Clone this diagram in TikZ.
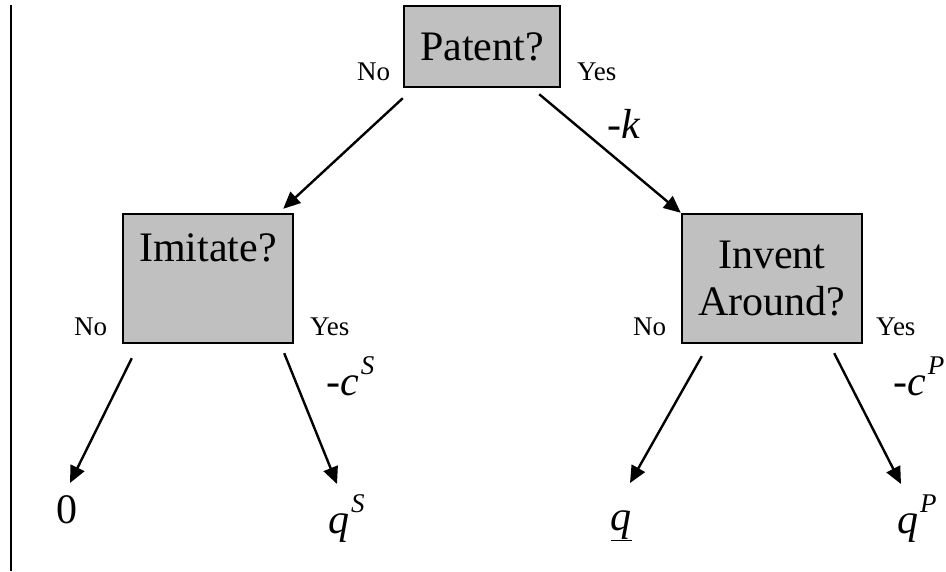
\documentclass[tikz,border=0pt]{standalone}
\usepackage{fontspec}
\setmainfont{Liberation Serif}
\usetikzlibrary{arrows.meta, calc}
\definecolor{boxgray}{RGB}{192, 192, 192}
\newcommand{\upidx}[1]{\kern2pt\raisebox{21pt}{\fontsize{27}{30}\selectfont\itshape #1}}

\begin{document}
\begin{tikzpicture}[x=1pt, y=-1pt,
        box/.style={rectangle, draw, line width=2.4pt, fill=boxgray, align=center,
          font=\fontsize{42}{47}\selectfont},
        arrow/.style={-{Triangle[length=17pt, width=15pt]}, line width=2.4pt},
        ans/.style={inner sep=0pt, anchor=base west, font=\fontsize{27}{30}\selectfont},
        pay/.style={inner sep=0pt, font=\fontsize{42}{47}\selectfont\itshape}
      ]
        \useasboundingbox (0,0) rectangle (946,571);
        \draw[line width=2.4pt] (11,5) -- (11,571);
        % decision boxes
        \node[box, minimum width=156pt, minimum height=81pt] (patent) at (482,46.5) {Patent?};
        \node[box, minimum width=170pt, minimum height=129pt] (imitate) at (208,278.5) {Imitate?\\\strut};
        \node[box, minimum width=180pt, minimum height=129pt] (invent) at (772,278.5) {Invent\\Around?};
        % answers
        \node[ans] (patno) at (357,80) {No};
        \node[ans] (patyes) at (577,80) {Yes};
        \node[ans] (imino) at (74,335) {No};
        \node[ans] (imiyes) at (310,335) {Yes};
        \node[ans] (invno) at (633,335) {No};
        \node[ans] (invyes) at (876,335) {Yes};
        % costs
        \node[pay, anchor=base west] (costk) at (607,138) {-k};
        \node[pay, anchor=base west] (costs) at (326,395) {-c\upidx{S}};
        \node[pay, anchor=base west] (costp) at (893,395) {-c\upidx{P}};
        % payoffs
        \node[pay, anchor=base, font=\fontsize{42}{47}\selectfont] (zero) at (67,523) {0};
        \node[pay, anchor=base west] (qs) at (328,533) {q\upidx{S}};
        \node[pay, anchor=base] (qlow) at (621,530) {\underline{q}};
        \node[pay, anchor=base west] (qp) at (897,533) {q\upidx{P}};
        % branches
        \draw[arrow] ($(patent.south west)+(0,10)$) -- ($(imitate.north east)+(-11,-4)$);
        \draw[arrow] ($(patent.south east)+(-22,6)$) -- (invent.north west);
        \draw[arrow] ($(imitate.south west)+(10,14)$) -- ($(zero.base)+(3,-40)$);
        \draw[arrow] ($(imitate.south east)+(-10,9)$) -- ($(qs.base west)+(9,-49)$);
        \draw[arrow] ($(invent.south west)+(21,12)$) -- ($(qlow.base)+(9,-47)$);
        \draw[arrow] ($(invent.south east)+(-29,9)$) -- ($(qp.base west)+(4,-49)$);
      \end{tikzpicture}
\end{document}
